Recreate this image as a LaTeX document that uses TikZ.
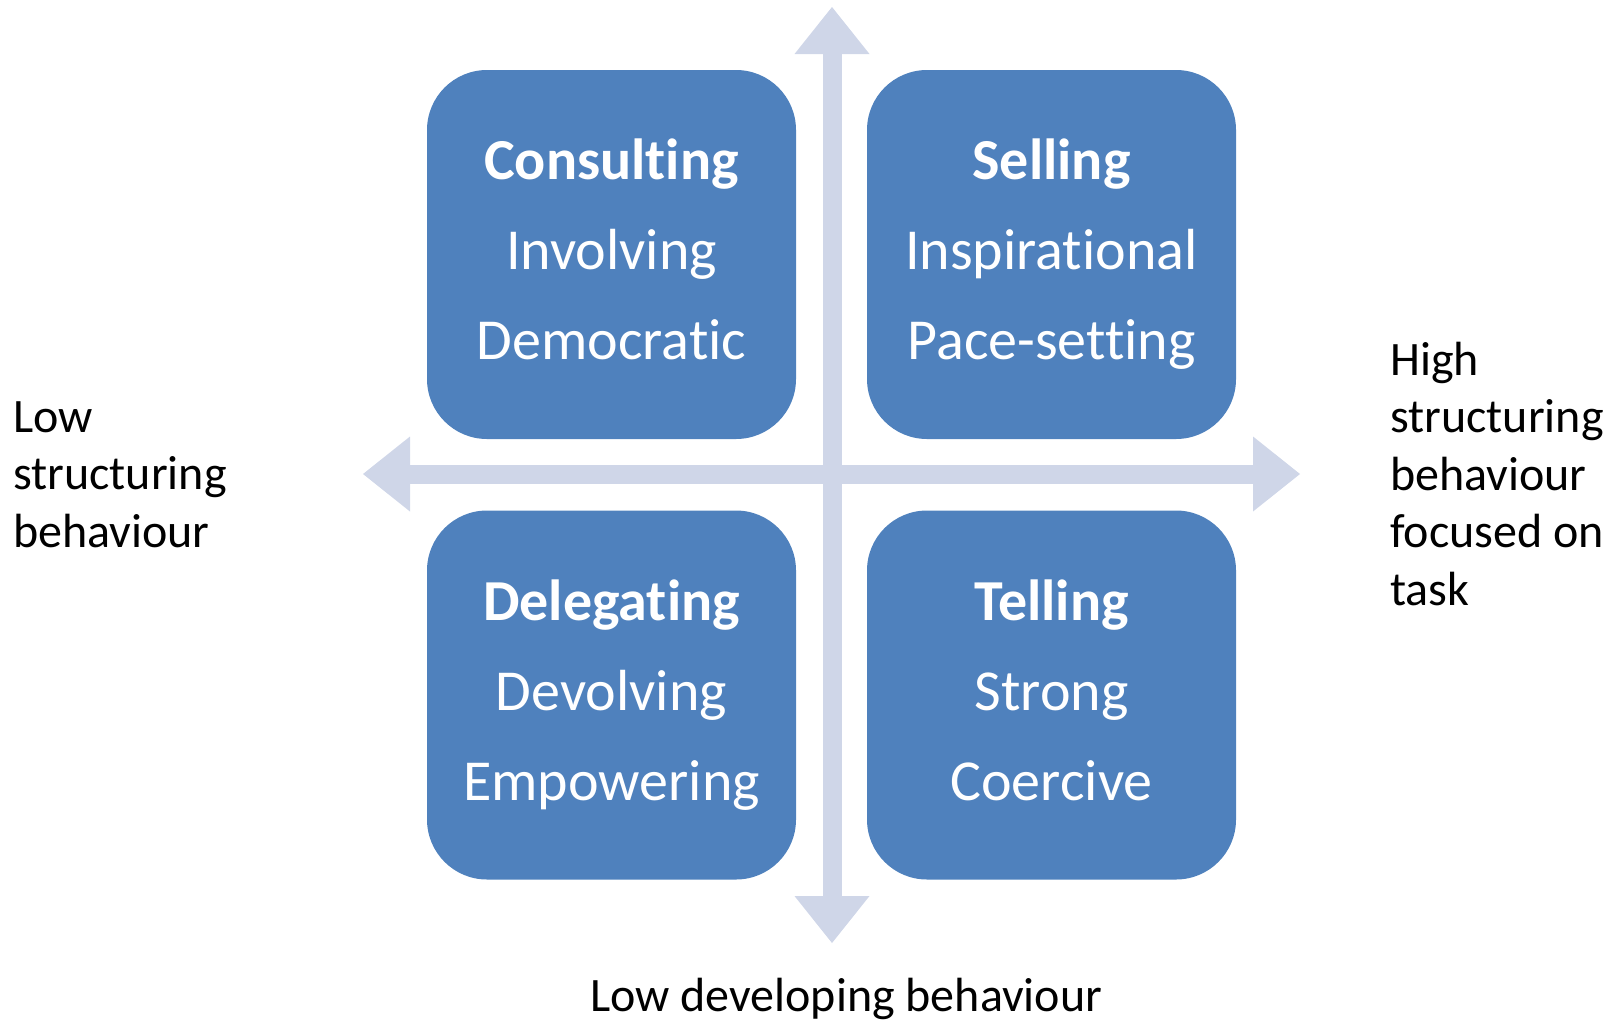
\documentclass[tikz,border=0pt]{standalone}
\usepackage{fontspec}
\setmainfont[Ligatures={NoCommon,NoContextual}]{Carlito}
\usepackage{tikz}
\usetikzlibrary{arrows.meta,positioning}

\begin{document}
\begin{tikzpicture}[x=1pt,y=-1pt]
	\definecolor{boxcolor}{RGB}{79,129,189}
	\definecolor{axiscolor}{RGB}{207,214,232}
	\tikzstyle{quadrant}=[rectangle, rounded corners=60pt, fill=boxcolor, minimum width=369pt, minimum height=369pt, inner sep=0pt]
	\tikzstyle{boxtext}=[text=white, inner sep=0pt, anchor=base, font=\fontsize{58}{70}\selectfont]
	\tikzstyle{sidetext}=[inner sep=0pt, anchor=base west, font=\fontsize{48}{58}\selectfont]
	\tikzstyle{axis}=[draw=axiscolor, line width=19pt, {Triangle[width=75pt,length=47pt,line width=0pt]}-{Triangle[width=75pt,length=47pt,line width=0pt]}]
	\def\linesep{90}
	\def\sidesep{57.5}

	\useasboundingbox (0,0) rectangle (1617,1023);

	% Draw the two axes
	\coordinate (top) at (832,7);
	\coordinate (bottom) at (832,943);
	\coordinate (left) at (363,474);
	\coordinate (right) at (1300,474);
	\draw[axis] (bottom) -- (top);
	\draw[axis] (left) -- (right);

	% Draw the four quadrants, heading in bold and two lines below it
	\foreach \name/\x/\y/\head/\first/\second in {cons/611.5/254.5/Consulting/Involving/Democratic,
	  sell/1051.5/254.5/Selling/Inspirational/Pace-setting,
	  dele/611.5/695/Delegating/Devolving/Empowering,
	  tell/1051.5/695/Telling/Strong/Coercive}
	{
	 \node[quadrant] (\name) at (\x,\y) {};
	 \node[boxtext] (\name-1) at (\x,\y+15-\linesep) {\bfseries\head};
	 \node[boxtext] (\name-2) at (\x,\y+15) {\first};
	 \node[boxtext] (\name-3) at (\x,\y+15+\linesep) {\second};
	}

	% Labels round the axes
	\foreach \txt [count=\i] in {Low, structuring, behaviour}
	 \node[sidetext] (low-\i) at (13,432+\sidesep*\i-\sidesep) {\txt};
	\foreach \txt [count=\i] in {High, structuring, behaviour, focused on, task}
	 \node[sidetext] (high-\i) at (1390,375+\sidesep*\i-\sidesep) {\txt};
	\node[sidetext] (dev) at (590,1011) {Low developing behaviour};
\end{tikzpicture}
\end{document}
